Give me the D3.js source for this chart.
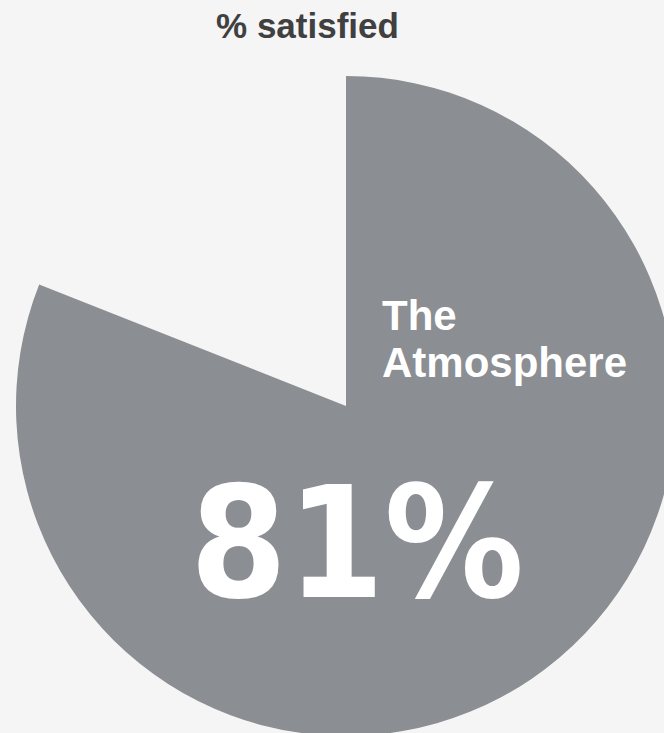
<!DOCTYPE html>
<html><head><meta charset="utf-8">
<script src="https://cdn.jsdelivr.net/npm/d3@7"></script>
<style>html,body{margin:0;padding:0;background:#f5f5f5;overflow:hidden}</style>
</head><body>
<script>
const categories = ["The Atmosphere", "Other"];
const values = [81, 19];
const title = "% satisfied";
const labelLines = ["The", "Atmosphere"];
const valueLabel = "81%";

const W = 664, H = 733;
const svg = d3.select("body").append("svg").attr("width", W).attr("height", H)
  .style("display","block").style("background","#f5f5f5");

const cx = 346, cy = 406, R = 330;
const pie = d3.pie().sort(null).value(d => d)(values);
const arc = d3.arc().innerRadius(0).outerRadius(R);
const g = svg.append("g").attr("transform", `translate(${cx},${cy})`);
g.selectAll("path").data(pie).join("path")
  .attr("d", arc)
  .attr("fill", (d,i) => i === 0 ? "#8b8e92" : "none");

svg.append("text").attr("x", 307.5).attr("y", 38).attr("text-anchor","middle")
  .attr("font-family","Liberation Sans, Arial, sans-serif").attr("font-weight","bold")
  .attr("font-size", 35).attr("fill","#404040").text(title);

const lab = svg.append("text").attr("font-family","Liberation Sans, Arial, sans-serif")
  .attr("font-weight","bold").attr("font-size", 42).attr("fill","#ffffff");
labelLines.forEach((t,i) => lab.append("tspan").attr("x", 382).attr("y", 330 + i*47).text(t));

svg.append("text").attr("x", 357).attr("y", 597).attr("text-anchor","middle")
  .attr("font-family","DejaVu Sans Condensed, DejaVu Sans, sans-serif").attr("font-weight","bold")
  .attr("font-stretch","condensed")
  .attr("font-size", 155).attr("fill","#ffffff").text(valueLabel);
</script>
</body></html>
